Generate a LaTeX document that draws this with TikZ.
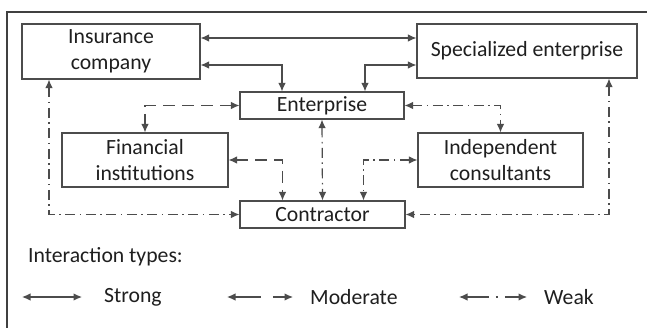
\documentclass[tikz,border=0pt]{standalone}
\usepackage{fontspec}
\setmainfont{Carlito}
\usetikzlibrary{arrows.meta}
\begin{document}
\begin{tikzpicture}[x=1pt,y=-1pt,
  box/.style={draw=black!70, line width=1.1pt, inner sep=0pt, align=center, text=black!88,
    font=\fontsize{21.7}{26}\selectfont},
  lbl/.style={anchor=west, inner sep=0pt, text=black!88, font=\fontsize{21.7}{26}\selectfont},
  conn/.style={draw=black!70, line width=1.2pt, {Latex[length=8.5pt,width=7.5pt]}-{Latex[length=8.5pt,width=7.5pt]}},
  strong/.style={conn},
  moder/.style={conn, dash pattern=on 12pt off 7pt},
  weak/.style={conn, dash pattern=on 10pt off 4.5pt on 1.5pt off 4.5pt}]
\useasboundingbox (0,0) rectangle (647,328);
\fill[white] (0,0) rectangle (647,328);
% outer frame (cut off at right and bottom)
\draw[black!75, line width=1.3pt] (647,12) -- (7,12) -- (7,328);
% nodes
\node[box, minimum width=178pt, minimum height=55pt] (ins) at (111,51.5) {Insurance\\company};
\node[box, minimum width=220pt, minimum height=54pt] (spe) at (527,51) {Specialized enterprise};
\node[box, minimum width=164pt, minimum height=27pt] (ent) at (322,105.5) {Enterprise};
\node[box, minimum width=166pt, minimum height=54pt] (fin) at (145,160) {Financial\\institutions};
\node[box, minimum width=165pt, minimum height=54pt] (ind) at (500.5,160) {Independent\\consultants};
\node[box, minimum width=165pt, minimum height=27pt] (con) at (322.5,214.5) {Contractor};
% row levels
\coordinate (r1) at (0,38);
\coordinate (r2) at (0,65);
% strong
\draw[strong] (ins.east |- r1) -- (spe.west |- r1);
\draw[strong] (ins.east |- r2) -| ([xshift=-40pt]ent.north);
\draw[strong] (spe.west |- r2) -| ([xshift=43pt]ent.north);
% moderate
\draw[moder] (ent.west) -| (fin.north);
\draw[moder] (fin.east) -| ([xshift=-40pt]con.north);
% weak
\draw[weak] (ent.south) -- (con.north);
\draw[weak] (ind.west) -| ([xshift=41pt]con.north);
\draw[weak] (ent.east) -| (ind.north);
\draw[weak] ([xshift=-62pt]ins.south) |- (con.west);
\draw[weak] ([xshift=82pt]spe.south) |- (con.east);
% legend
\node[lbl] (lt) at (28,257) {Interaction types:};
\coordinate (s1) at (22,297); \coordinate (s2) at (82,297);
\coordinate (m1) at (227,297); \coordinate (m2) at (293,297);
\coordinate (w1) at (459,297); \coordinate (w2) at (527,297);
\draw[strong] (s1) -- (s2);
\draw[conn, dash pattern=on 26pt off 12pt] (m1) -- (m2);
\draw[conn, dash pattern=on 22pt off 7pt on 2pt off 7pt] (w1) -- (w2);
\node[lbl] (ls) at (104,297) {Strong};
\node[lbl] (lm) at (310,297) {Moderate};
\node[lbl] (lw) at (544,297) {Weak};
\end{tikzpicture}
\end{document}
